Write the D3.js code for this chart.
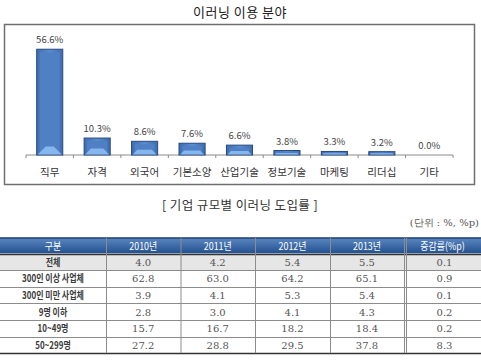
<!DOCTYPE html>
<html>
<head>
<meta charset="utf-8">
<style>
    body { margin:0; background:#fff; }
    svg { display:block; }
    .kr { font-family:"Noto Sans CJK KR","Noto Sans",sans-serif; }
    .num { font-family:"DejaVu Serif","Liberation Serif",serif; }
</style>
<script src="https://d3js.org/d3.v7.min.js"></script>
</head>
<body>
<svg id="chart" width="481" height="362"></svg>
<script>
    // bar chart data
    var fields = ["직무","자격","외국어","기본소양","산업기술","정보기술","마케팅","리더십","기타"];
    var usage = [56.6,10.3,8.6,7.6,6.6,3.8,3.3,3.2,0.0];

    // table data
    var tableHead = ["구분","2010년","2011년","2012년","2013년","증감률(%p)"];
    var rowNames = ["전체","300인 이상 사업체","300인 미만 사업체","9명 이하","10~49명","50~299명"];
    var y2010 = ["4.0","62.8","3.9","2.8","15.7","27.2"];
    var y2011 = ["4.2","63.0","4.1","3.0","16.7","28.8"];
    var y2012 = ["5.4","64.2","5.3","4.1","18.2","29.5"];
    var y2013 = ["5.5","65.1","5.4","4.3","18.4","37.8"];
    var change = ["0.1","0.9","0.1","0.2","0.2","8.3"];

    var svg = d3.select("#chart");
    var defs = svg.append("defs");

    var barGrad = defs.append("linearGradient").attr("id","barGrad")
        .attr("x1",0).attr("x2",1).attr("y1",0).attr("y2",0);
    barGrad.append("stop").attr("offset","0%").attr("stop-color","#3f6cae");
    barGrad.append("stop").attr("offset","50%").attr("stop-color","#5b8ccf");
    barGrad.append("stop").attr("offset","100%").attr("stop-color","#3f6cae");

    var headGrad = defs.append("linearGradient").attr("id","headGrad")
        .attr("x1",0).attr("x2",0).attr("y1",0).attr("y2",1);
    headGrad.append("stop").attr("offset","0%").attr("stop-color","#5a86c0");
    headGrad.append("stop").attr("offset","100%").attr("stop-color","#23508f");

    // squeeze text horizontally (the original uses a narrow Korean font)
    var squeeze = function(sel, k)
    {
        sel.each(function()
        {
            var w = this.getComputedTextLength();
            d3.select(this).attr("textLength", w*k).attr("lengthAdjust","spacingAndGlyphs");
        });
    }

    // ---- chart ----
    svg.append("text").attr("class","kr")
        .attr("x",240).attr("y",17)
        .attr("text-anchor","middle")
        .attr("font-size",13).attr("fill","#222")
        .attr("letter-spacing",0.5)
        .text("이러닝 이용 분야");

    svg.append("rect")
        .attr("x",4.5).attr("y",24.5).attr("width",470).attr("height",160)
        .attr("fill","#fff").attr("stroke","#6f6f6f").attr("stroke-width",1.5);

    var axisY = 155;
    var xScale = d3.scaleBand()
        .domain(fields)
        .range([26,453])
        .paddingInner(0.45)
        .paddingOuter(0.225);
    var yScale = d3.scaleLinear()
        .domain([0,60])
        .range([157.8,157.8-115.1]);

    // axis line + ticks at band boundaries
    svg.append("line")
        .attr("x1",26).attr("x2",453).attr("y1",axisY).attr("y2",axisY)
        .attr("stroke","#8a8a8a").attr("stroke-width",1);
    var step = xScale.step();
    svg.selectAll(".tick")
        .data(d3.range(fields.length+1))
        .enter().append("line")
        .attr("x1",function(i){ return 26 + i*step; })
        .attr("x2",function(i){ return 26 + i*step; })
        .attr("y1",axisY).attr("y2",axisY+3)
        .attr("stroke","#8a8a8a");

    var bw = xScale.bandwidth();
    var bars = svg.selectAll(".bar")
        .data(fields.map(function(f,i){ return {name:f, value:usage[i]}; }))
        .enter().append("g").attr("class","bar");

    bars.filter(function(d){ return yScale(d.value) < axisY; })
        .each(function(d)
        {
            var g = d3.select(this);
            var x0 = xScale(d.name);
            var top = yScale(d.value);
            var h = axisY - top;
            g.append("rect")
                .attr("x",x0).attr("y",top).attr("width",bw).attr("height",h)
                .attr("fill","url(#barGrad)").attr("stroke","#284a80").attr("stroke-width",1);
            var inset = Math.min(3, h/3);
            g.append("rect")
                .attr("x",x0+inset).attr("y",top+inset)
                .attr("width",bw-2*inset).attr("height",Math.max(0,h-2*inset))
                .attr("fill","#4f80c4");
            var fh = Math.min(8, h*0.35);
            g.append("path")
                .attr("d","M"+(x0+1)+","+(axisY-0.5)
                    +"L"+(x0+1+fh)+","+(axisY-0.5-fh)
                    +"L"+(x0+bw-1-fh)+","+(axisY-0.5-fh)
                    +"L"+(x0+bw-1)+","+(axisY-0.5)+"Z")
                .attr("fill","#86b6ee");
        });

    bars.append("text").attr("class","kr")
        .attr("x",function(d){ return xScale(d.name)+bw/2; })
        .attr("y",function(d){ return Math.min(yScale(d.value),axisY) - 6; })
        .attr("text-anchor","middle")
        .attr("font-size",9.5).attr("fill","#444")
        .text(function(d){ return d.value.toFixed(1)+"%"; });

    bars.append("text").attr("class","kr")
        .attr("x",function(d){ return xScale(d.name)+bw/2; })
        .attr("y",176)
        .attr("text-anchor","middle")
        .attr("font-size",10.5).attr("fill","#333")
        .text(function(d){ return d.name; });

    // ---- table ----
    svg.append("text").attr("class","kr")
        .attr("x",240).attr("y",210)
        .attr("text-anchor","middle")
        .attr("font-size",12.5).attr("fill","#333")
        .attr("letter-spacing",0.4)
        .text("[ 기업 규모별 이러닝 도입률 ]");

    svg.append("text").attr("class","num")
        .attr("x",479).attr("y",226)
        .attr("text-anchor","end")
        .attr("font-size",10).attr("fill","#555")
        .text("(단위 : %, %p)");

    var colEdges = [0,106,180.5,255,330,404,481];
    var rowTop = 238, headH = 15.5, rowH = 16.6;
    var cols = [rowNames,y2010,y2011,y2012,y2013,change];

    svg.append("rect")
        .attr("x",0).attr("y",rowTop).attr("width",481).attr("height",headH)
        .attr("fill","url(#headGrad)");
    svg.append("rect")
        .attr("x",0).attr("y",rowTop+headH).attr("width",481).attr("height",rowH)
        .attr("fill","#e6e6e6");

    svg.selectAll(".hd")
        .data(tableHead)
        .enter().append("text").attr("class","kr")
        .attr("x",function(d,i){ return (colEdges[i]+colEdges[i+1])/2; })
        .attr("y",rowTop+headH/2+4)
        .attr("text-anchor","middle")
        .attr("font-size",10.5).attr("fill","#fff")
        .text(function(d){ return d; })
        .call(squeeze,0.85);

    // horizontal lines
    var hLines = d3.range(rowNames.length+1).map(function(i){ return rowTop+headH+i*rowH; });
    svg.append("line")
        .attr("x1",0).attr("x2",481).attr("y1",rowTop).attr("y2",rowTop)
        .attr("stroke","#1d3f70").attr("stroke-width",1.5);
    svg.selectAll(".hl")
        .data(hLines)
        .enter().append("line")
        .attr("x1",0).attr("x2",481)
        .attr("y1",function(d){ return Math.round(d)+0.5; })
        .attr("y2",function(d){ return Math.round(d)+0.5; })
        .attr("stroke",function(d,i){ return (i==0 || i==hLines.length-1) ? "#333" : "#8c8c8c"; })
        .attr("stroke-width",function(d,i){ return (i==0 || i==hLines.length-1) ? 1.5 : 1; });

    // vertical lines
    var bottom = hLines[hLines.length-1];
    svg.selectAll(".vl")
        .data(colEdges.slice(1,-1))
        .enter().append("line")
        .attr("x1",function(d){ return d+0.5; }).attr("x2",function(d){ return d+0.5; })
        .attr("y1",rowTop).attr("y2",bottom)
        .attr("stroke","#8c8c8c");
    svg.append("line")
        .attr("x1",406.5).attr("x2",406.5).attr("y1",rowTop).attr("y2",bottom)
        .attr("stroke","#8c8c8c");

    // cells
    cols.forEach(function(col,ci)
    {
        var t = svg.selectAll(".c"+ci)
            .data(col)
            .enter().append("text")
            .attr("class",ci==0 ? "kr" : "num")
            .attr("x",(colEdges[ci]+colEdges[ci+1])/2 + (ci==5 ? 2 : 0))
            .attr("y",function(d,ri){ return rowTop+headH+ri*rowH+rowH/2+4; })
            .attr("text-anchor","middle")
            .attr("font-size",ci==0 ? 10.5 : 10)
            .attr("font-weight",ci==0 ? "bold" : "normal")
            .attr("fill",ci==0 ? "#3a3a3a" : "#555")
            .text(function(d){ return d; });
        if (ci==0) t.call(squeeze,0.76);
    });
</script>
</body>
</html>
